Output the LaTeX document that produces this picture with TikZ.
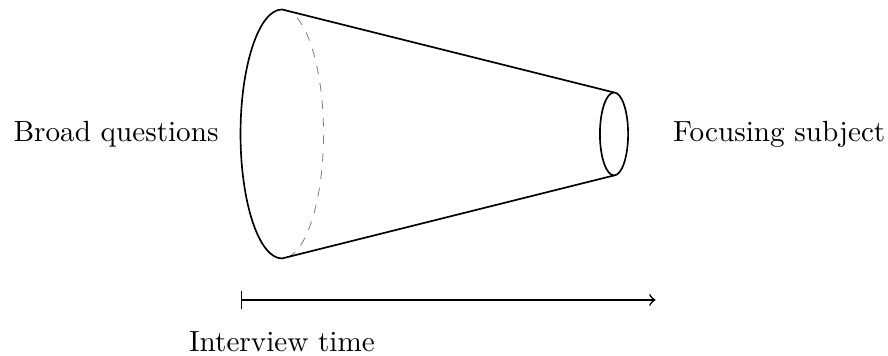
\documentclass[tikz,border=0pt]{standalone}
\begin{document}
\begin{tikzpicture}
\useasboundingbox (-3.398,-2.675) rectangle (7.301,1.614);
\coordinate (bigtop) at (0,1.5);
\coordinate (bigbot) at (0,-1.5);
\coordinate (smalltop) at (4,0.5);
\coordinate (smallbot) at (4,-0.5);
\coordinate (timestart) at (-0.5,-2);
\coordinate (timeend) at (4.5,-2);
\draw[line width=0.2mm, color=black] (bigbot) arc (270:90:0.5 and 1.5);
\draw[line width=0.1mm, dashed, color=gray] (bigtop) arc (90:-90:0.5 and 1.5);
\draw[line width=0.2mm, color=black] (bigtop) -- (smalltop);
\draw[line width=0.2mm, color=black] (bigbot) -- (smallbot);
\draw[line width=0.2mm, color=black] (4,0) ellipse (0.17 and 0.5);
\draw[|->, line width=0.2mm, color=black] (timestart) -- (timeend);
\node (broad) at (-2,0) {Broad questions};
\node (focus) at (5.99,0) {Focusing subject};
\node (time) at (0,-2.5) {Interview time};
\end{tikzpicture}
\end{document}
